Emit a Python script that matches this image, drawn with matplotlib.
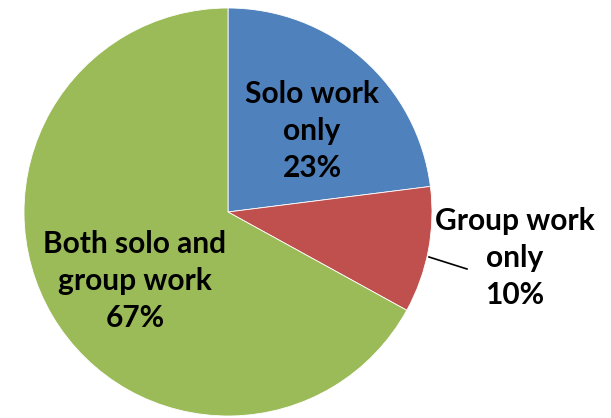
import matplotlib.pyplot as plt

categories = ['Solo work\nonly', 'Group work\nonly', 'Both solo and\ngroup work']
shares = [23, 10, 67]
colors = ['#4F81BD', '#C0504D', '#9BBB59']

W, H = 611, 418
fig = plt.figure(figsize=(W / 100, H / 100), dpi=100)

# pie centre ~ (228, 212) px from top-left, radius ~204 px
cx, cy, r = 228, 212, 204
ax = fig.add_axes([(cx - r) / W, (H - cy - r) / H, 2 * r / W, 2 * r / H])
wedges, _ = ax.pie(shares, colors=colors, startangle=90, counterclock=False,
                   radius=1, wedgeprops=dict(edgecolor='white', linewidth=0.6))
ax.set_xlim(-1, 1)
ax.set_ylim(-1, 1)
ax.set_aspect('equal')
ax.axis('off')


def px(x, y):
    return ((x - cx) / r, (cy - y) / r)


font = dict(family='Lato', fontweight='bold', fontsize=21.5, color='black',
            ha='center', va='center', linespacing=1.4)

label_pos = [(312, 131), (515, 258), (135, 281)]
for name, val, (lx, ly) in zip(categories, shares, label_pos):
    ax.text(*px(lx, ly), f'{name}\n{val}%', clip_on=False, **font)

# leader line for the small slice
x0, y0 = px(429, 257)
x1, y1 = px(467, 269)
ax.plot([x0, x1], [y0, y1], color='black', linewidth=1.2, clip_on=False)

fig.savefig('out.png', dpi=100)
